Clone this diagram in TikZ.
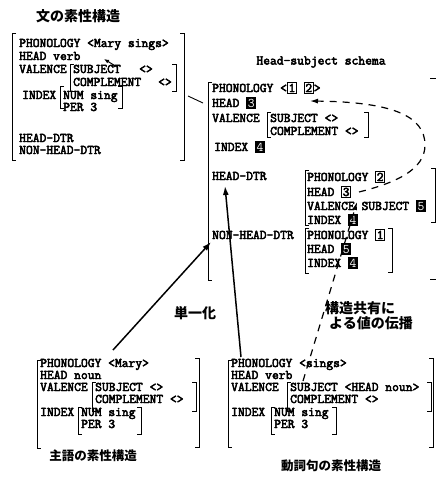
\documentclass[tikz,border=0pt]{standalone}
\usepackage{fontspec}
\setmainfont{Liberation Serif}
\newfontfamily\monob{Latin Modern Mono}[FakeBold=3.5]
\newfontfamily\monop{Latin Modern Mono}
\newfontfamily\cjk{Noto Sans CJK JP}
\usetikzlibrary{arrows.meta}
\newcommand\tgo[1]{{\setlength\fboxsep{0.6pt}\setlength\fboxrule{1pt}\fbox{#1}}}
\newcommand\tgf[1]{{\setlength\fboxsep{0.6pt}\setlength\fboxrule{1pt}\fcolorbox{black}{black}{\monop\textcolor{white}{#1}}}}
\newcommand\LBrk[3]{\draw[brk] ({#1+4},#2) -- (#1,#2) -- (#1,#3) -- ({#1+4},#3);}
\newcommand\RBrk[3]{\draw[brk] ({#1-4},#2) -- (#1,#2) -- (#1,#3) -- ({#1-4},#3);}
\newcommand\rw[4]{\node[txt] (#1) at (#2,{#3+4}) {#4};}
\begin{document}
\begin{tikzpicture}[x=1pt,y=-1pt,
  txt/.style={inner sep=0pt, anchor=base west, font=\fontsize{13.2}{13.2}\selectfont\monob},
  ttl/.style={inner sep=0pt, font=\fontsize{14}{14}\selectfont\cjk\bfseries},
  ttls/.style={inner sep=0pt, font=\fontsize{12.5}{12.5}\selectfont\cjk\bfseries},
  brk/.style={line width=0.9pt},
  solidarr/.style={line width=1.5pt, -{Latex[length=9pt,width=6pt]}},
  dasharr/.style={line width=1.2pt, dash pattern=on 7pt off 6pt, -{Latex[length=8pt,width=5pt]}},
]
\useasboundingbox (0,0) rectangle (436,477);
\fill[white] (0,0) rectangle (436,477);

% ---------- sentence feature structure ----------
\node[ttl] (t1) at (78,16) {文の素性構造};
\LBrk{12}{33}{160} \RBrk{184}{33}{160}
\rw{a1}{19}{43}{PHONOLOGY <Mary sings>}
\rw{a2}{19}{56}{HEAD verb}
\rw{a3}{19}{69}{VALENCE}
\LBrk{70}{64}{91} \RBrk{176}{64}{91}
\rw{a3s}{73}{69}{SUBJECT}
\rw{a3v}{139}{69}{<>}
\rw{a4}{73}{82}{COMPLEMENT}
\rw{a4v}{158}{82}{<>}
\rw{a5}{22}{95}{INDEX}
\LBrk{60}{86}{108} \RBrk{122}{86}{108}
\rw{a5n}{63}{95}{NUM sing}
\rw{a6}{63}{107}{PER 3}
\rw{a7}{19}{138}{HEAD-DTR}
\rw{a8}{19}{150}{NON-HEAD-DTR}
\coordinate (af) at (117,67);
\coordinate (at) at (104,59);
\draw[line width=1pt,-{Latex[length=5pt,width=4pt]}] (af) -- (at);
\coordinate (c1a) at (188,96);
\coordinate (c1b) at (203,103);
\draw[line width=0.9pt] (c1a) -- (c1b);

% ---------- Head-subject schema ----------
\node[txt, anchor=center] (ths) at (321,62) {Head-subject schema};
\LBrk{208}{82}{280}
\draw[brk] (430,78) -- (438,78) -- (438,279) -- (430,279);
\rw{h1}{212}{88}{PHONOLOGY <\tgo{1} \tgo{2}>}
\rw{h2}{212}{103}{HEAD \tgf{3}}
\rw{h3}{212}{118}{VALENCE}
\LBrk{267}{112}{137} \RBrk{368}{112}{137}
\rw{h3s}{270}{118}{SUBJECT <>}
\rw{h4}{270}{131}{COMPLEMENT <>}
\rw{h5}{214}{147}{INDEX \tgf{4}}
\rw{h6}{212}{176}{HEAD-DTR}
\rw{h7}{212}{235}{NON-HEAD-DTR}

% head daughter
\LBrk{305}{170}{225}
\RBrk{435}{168}{222}
\rw{d1}{307}{177}{PHONOLOGY \tgo{2}}
\rw{d2}{307}{192}{HEAD \tgo{3}}
\rw{d3}{307}{206}{VALENCE SUBJECT \tgf{5}}
\rw{d4}{307}{220}{INDEX \tgf{4}}

% non-head daughter
\LBrk{305}{228}{273} \RBrk{392}{228}{272}
\rw{n1}{307}{235}{PHONOLOGY \tgo{1}}
\rw{n2}{307}{249}{HEAD \tgf{5}}
\rw{n3}{307}{263}{INDEX \tgf{4}}

% dashed arrows (structure sharing)
\coordinate (s1) at (303,381);
\coordinate (e1) at (357,202);
\draw[dasharr] (s1) -- (e1);
\coordinate (s2) at (359,192);
\coordinate (e2) at (310,101);
\draw[dasharr] (s2) .. controls (395,183) and (425,170) .. (425,145)
                    .. controls (425,115) and (390,102) .. (e2);

% solid arrows (unification)
\coordinate (A1) at (113,350);
\coordinate (A2) at (211,242);
\draw[solidarr] (A1) -- (A2);
\coordinate (B1) at (241,357);
\coordinate (B2) at (225,186);
\draw[solidarr] (B1) -- (B2);

% labels
\node[ttl] (lu) at (195,313) {単一化};
\node[ttl, anchor=west] (ls1) at (325,308) {構造共有に};
\node[ttl, anchor=west] (ls2) at (329,323) {よる値の伝播};

% ---------- subject feature structure ----------
\LBrk{37}{360}{448} \RBrk{199}{358}{447}
\rw{l1}{40}{363}{PHONOLOGY <Mary>}
\rw{l2}{40}{375}{HEAD noun}
\rw{l3}{40}{387}{VALENCE}
\LBrk{92}{382}{411} \RBrk{196}{382}{411}
\rw{l3s}{95}{387}{SUBJECT <>}
\rw{l4}{95}{399}{COMPLEMENT <>}
\rw{l5}{40}{412}{INDEX}
\LBrk{78}{407}{434} \RBrk{141}{407}{434}
\rw{l5n}{81}{412}{NUM sing}
\rw{l6}{81}{424}{PER 3}
\node[ttls] (t2) at (93,456) {主語の素性構造};

% ---------- verb phrase feature structure ----------
\LBrk{228}{360}{447} \RBrk{433}{358}{447}
\rw{m1}{231}{363}{PHONOLOGY <sings>}
\rw{m2}{231}{375}{HEAD verb}
\rw{m3}{231}{387}{VALENCE}
\LBrk{287}{382}{411} \RBrk{431}{382}{411}
\rw{m3s}{290}{387}{SUBJECT <HEAD noun>}
\rw{m4}{290}{399}{COMPLEMENT <>}
\rw{m5}{231}{412}{INDEX}
\LBrk{271}{407}{434} \RBrk{336}{407}{434}
\rw{m5n}{274}{412}{NUM sing}
\rw{m6}{274}{424}{PER 3}
\node[ttls] (t3) at (331,466) {動詞句の素性構造};
\end{tikzpicture}
\end{document}
